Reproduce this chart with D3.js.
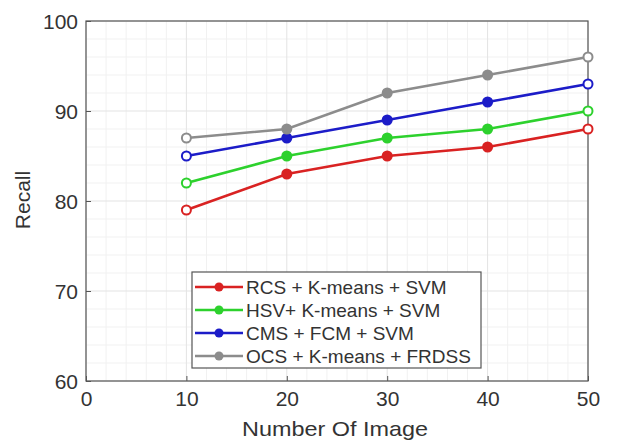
<!DOCTYPE html>
<html>
<head>
<meta charset="UTF-8" />
<title>Recall</title>
<style>
  body { margin: 0; background: #fff; }
  text { font-family: "Liberation Sans", Arial, sans-serif; fill: #333; }
  .grid-major line { stroke: #e3e3e3; stroke-width: 1px; }
  .grid-minor line { stroke: #f1f1f1; stroke-width: 1px; }
  .frame { fill: none; stroke: #555; stroke-width: 1.2px; }
  .series path { fill: none; stroke-width: 2.6px; }
  .legend-box { fill: #fff; stroke: #555; stroke-width: 1.2px; }
</style>
<script src="https://d3js.org/d3.v7.min.js"></script>
</head>
<body>
<script>
// data
var images = [10, 20, 30, 40, 50];
var names = ["RCS + K-means + SVM", "HSV+ K-means + SVM", "CMS + FCM + SVM", "OCS + K-means + FRDSS"];
var rcs = [79, 83, 85, 86, 88];
var hsv = [82, 85, 87, 88, 90];
var cms = [85, 87, 89, 91, 93];
var ocs = [87, 88, 92, 94, 96];
var colors = ["#d92222", "#2dd12d", "#1c1cc8", "#8c8c8c"];
var xTicks = [0, 10, 20, 30, 40, 50];
var yTicks = [60, 70, 80, 90, 100];

var series = [rcs, hsv, cms, ocs];

var width = 617, height = 441;
var svg = d3.select("body").append("svg")
    .attr("width", width)
    .attr("height", height);

var x = d3.scaleLinear().domain([0, 50]).range([86, 588]);
var y = d3.scaleLinear().domain([60, 100]).range([381, 21]);

// minor grid
var gMinor = svg.append("g").attr("class", "grid-minor");
gMinor.selectAll("line.v").data(d3.range(0, 51, 2).filter(function(d) { return d % 10; }))
  .enter().append("line").attr("class", "v")
  .attr("x1", x).attr("x2", x).attr("y1", y(60)).attr("y2", y(100));
gMinor.selectAll("line.h").data(d3.range(60, 101, 2).filter(function(d) { return d % 10; }))
  .enter().append("line").attr("class", "h")
  .attr("y1", y).attr("y2", y).attr("x1", x(0)).attr("x2", x(50));

// major grid
var gMajor = svg.append("g").attr("class", "grid-major");
gMajor.selectAll("line.v").data(xTicks)
  .enter().append("line").attr("class", "v")
  .attr("x1", x).attr("x2", x).attr("y1", y(60)).attr("y2", y(100));
gMajor.selectAll("line.h").data(yTicks)
  .enter().append("line").attr("class", "h")
  .attr("y1", y).attr("y2", y).attr("x1", x(0)).attr("x2", x(50));

// axes (ticks inward, matlab style)
var xAxis = svg.append("g").attr("transform", "translate(0," + y(60) + ")")
  .call(d3.axisBottom(x).tickValues(xTicks).tickSize(-5).tickPadding(21).tickFormat(d3.format("d")));
var yAxis = svg.append("g").attr("transform", "translate(" + x(0) + ",0)")
  .call(d3.axisLeft(y).tickValues(yTicks).tickSize(-5).tickPadding(8).tickFormat(d3.format("d")));
[xAxis, yAxis].forEach(function(a) {
  a.select(".domain").remove();
  a.selectAll(".tick line").attr("stroke", "#555");
  a.selectAll(".tick text").attr("fill", "#333").style("font-size", "21px");
});
xAxis.selectAll(".tick text").attr("dy", "0.2em");
yAxis.selectAll(".tick text").attr("dy", "0.36em");

svg.append("rect").attr("class", "frame")
  .attr("x", x(0)).attr("y", y(100))
  .attr("width", x(50) - x(0)).attr("height", y(60) - y(100));

// series
var line = d3.line()
  .x(function(d, i) { return x(images[i]); })
  .y(function(d) { return y(d); });

var gs = svg.selectAll("g.series").data(series).enter().append("g")
  .attr("class", "series");
gs.append("path")
  .attr("stroke", function(d, i) { return colors[i]; })
  .attr("d", line);
gs.each(function(s, k) {
  d3.select(this).selectAll("circle").data(s).enter().append("circle")
    .attr("cx", function(d, i) { return x(images[i]); })
    .attr("cy", function(d) { return y(d); })
    .attr("r", 4.5)
    .attr("stroke", colors[k])
    .attr("stroke-width", 2)
    .attr("fill", function(d, i) { return (i === 0 || i === s.length - 1) ? "#fff" : colors[k]; });
});

// axis labels
svg.append("text")
  .attr("x", 335).attr("y", 436)
  .attr("text-anchor", "middle")
  .attr("textLength", 186)
  .attr("lengthAdjust", "spacingAndGlyphs")
  .style("font-size", "21px")
  .text("Number Of Image");

svg.append("text")
  .attr("transform", "translate(30,200) rotate(-90)")
  .attr("text-anchor", "middle")
  .style("font-size", "21px")
  .text("Recall");

// legend
var legend = svg.append("g");
legend.append("rect").attr("class", "legend-box")
  .attr("x", 192).attr("y", 272).attr("width", 289).attr("height", 96);
var rows = legend.selectAll("g.row").data(names).enter().append("g")
  .attr("class", "row")
  .attr("transform", function(d, i) { return "translate(0," + (287 + i * 23) + ")"; });
rows.append("line")
  .attr("x1", 195).attr("x2", 243)
  .attr("stroke", function(d, i) { return colors[i]; })
  .attr("stroke-width", 2.6);
rows.append("circle")
  .attr("cx", 219).attr("r", 4.5)
  .attr("fill", function(d, i) { return colors[i]; });
rows.append("text")
  .attr("x", 246).attr("dy", "0.36em")
  .style("font-size", "19px")
  .text(function(d) { return d; });
</script>
</body>
</html>
